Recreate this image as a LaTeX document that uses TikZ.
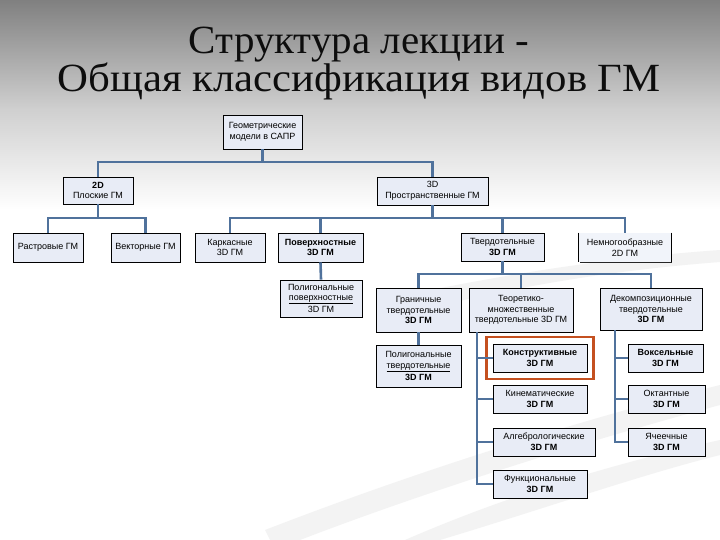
\documentclass[tikz,border=0pt]{standalone}
\usepackage{fontspec}
\setmainfont{Liberation Serif}
\newfontfamily\arialf{Liberation Sans}
\usetikzlibrary{shadows,fit}
\definecolor{boxfill}{RGB}{232,236,246}
\definecolor{conncol}{RGB}{80,114,156}
\definecolor{frameor}{RGB}{196,80,32}
\definecolor{swoosh}{RGB}{243,243,243}
\tikzset{
  gbox/.style={draw=black, line width=0.9pt, fill=boxfill, align=center, inner sep=1pt,
    font=\arialf\fontsize{9}{10.6}\selectfont,
    drop shadow={shadow xshift=1.3pt, shadow yshift=-1.3pt, opacity=1, fill=black!85}},
  conn/.style={draw=conncol, line width=2.6pt},
  ttl/.style={font=\fontsize{40}{34}\selectfont, inner sep=0pt, align=center, anchor=base},
}
\begin{document}
\begin{tikzpicture}[x=1pt,y=-1pt]
\useasboundingbox (0,0) rectangle (720,540);
% background
\fill[white] (0,0) rectangle (720,540);
\shade[top color={rgb,255:red,128;green,128;blue,128}, bottom color={rgb,255:red,208;green,208;blue,208}] (0,0) rectangle (720,110);
\shade[top color={rgb,255:red,208;green,208;blue,208}, bottom color=white] (0,110) rectangle (720,210);
\fill[swoosh] (265,530) .. controls (420,470) and (580,420) .. (720,385) -- (720,405) .. controls (590,440) and (430,490) .. (300,540) -- (270,540) -- cycle;
\fill[swoosh] (405,540) .. controls (520,490) and (630,460) .. (720,440) -- (720,455) .. controls (640,475) and (540,510) .. (440,540) -- cycle;
\fill[swoosh] (380,300) .. controls (480,280) and (580,260) .. (720,250) -- (720,262) .. controls (590,272) and (490,292) .. (390,318) -- cycle;
% title
\node[ttl, text=black!95] (title) at (359,92) {\scalebox{1.025}[1]{Структура лекции -}\\\scalebox{1.07}[1]{Общая классификация видов ГМ}};
% connector bus coordinates
\coordinate (bus1) at (0,162);
\coordinate (bus2) at (0,218);
\coordinate (bus4) at (0,274);
% nodes
\node[gbox, minimum width=79pt, minimum height=34pt] (root) at (262.5,132) {Геометрические\\модели в САПР};
\node[gbox, minimum width=70pt, minimum height=27pt] (n2D) at (98,190.5) {\textbf{2D}\\Плоские ГМ};
\node[gbox, minimum width=111pt, minimum height=28pt] (n3D) at (432.5,191) {3D\\Пространственные ГМ};
\node[gbox, minimum width=70pt, minimum height=29pt] (rast) at (48,247.5) {Растровые ГМ};
\node[gbox, minimum width=69pt, minimum height=29pt] (vect) at (145.5,247.5) {Векторные ГМ};
\node[gbox, minimum width=70pt, minimum height=29pt] (kark) at (230,247.5) {Каркасные\\3D ГМ};
\node[gbox, minimum width=85pt, minimum height=29pt] (pov) at (320.5,247.5) {\textbf{Поверхностные}\\\textbf{3D ГМ}};
\node[gbox, minimum width=83pt, minimum height=28pt] (tverd) at (502.5,247) {Твердотельные\\\textbf{3D ГМ}};
\node[gbox, draw=none, drop shadow={opacity=0}, fill=boxfill!60, minimum width=92pt, minimum height=29pt] (nemn) at (625,247.5) {Немногообразные\\2D ГМ};
\draw[black, line width=0.9pt] (nemn.north west) -- (nemn.south west) (nemn.north east) -- (nemn.south east);
\node[gbox, minimum width=82pt, minimum height=37pt, font=\arialf\fontsize{9}{10}\selectfont] (polpov) at (321,298.5) {Полигональные\\\underline{поверхностные}\\[1.5pt]3D ГМ};
\node[gbox, minimum width=85pt, minimum height=44pt] (gran) at (418.5,310) {Граничные\\твердотельные\\\textbf{3D ГМ}};
\node[gbox, minimum width=104pt, minimum height=44pt] (teor) at (521,310) {Теоретико-\\множественные\\твердотельные 3D ГМ};
\node[gbox, minimum width=102pt, minimum height=42pt] (dek) at (651,309) {Декомпозиционные\\твердотельные\\\textbf{3D ГМ}};
\node[gbox, minimum width=85pt, minimum height=42pt] (poltv) at (418.5,366) {Полигональные\\\underline{твердотельные}\\[1.5pt]\textbf{3D ГМ}};
\node[gbox, minimum width=94pt, minimum height=28pt] (konstr) at (540,358) {\textbf{Конструктивные}\\\textbf{3D ГМ}};
\node[gbox, minimum width=94pt, minimum height=28pt] (kinem) at (540,399) {Кинематические\\\textbf{3D ГМ}};
\node[gbox, minimum width=102pt, minimum height=28pt] (algeb) at (544,442) {Алгебрологические\\\textbf{3D ГМ}};
\node[gbox, minimum width=94pt, minimum height=28pt] (funk) at (540,484) {Функциональные\\\textbf{3D ГМ}};
\node[gbox, minimum width=75pt, minimum height=28pt] (voks) at (665.5,358) {\textbf{Воксельные}\\\textbf{3D ГМ}};
\node[gbox, minimum width=77pt, minimum height=28pt] (okt) at (666.5,399) {Октантные\\\textbf{3D ГМ}};
\node[gbox, minimum width=77pt, minimum height=28pt] (yach) at (666.5,442) {Ячеечные\\\textbf{3D ГМ}};
\node[draw=frameor, line width=2.8pt, inner xsep=6pt, inner ysep=6.5pt, fit=(konstr)] (hl) {};
% connectors
\coordinate (tt) at (477,332);
\coordinate (dt) at (615,330);
\draw[conn] (root.south) -- (root.south |- bus1);
\draw[conn] (n2D.north) -- (n2D.north |- bus1) -- (n3D.north |- bus1) -- (n3D.north);
\draw[conn] (n2D.south) -- (n2D.south |- bus2);
\draw[conn] (rast.north) -- (rast.north |- bus2) -- (vect.north |- bus2) -- (vect.north);
\draw[conn] (n3D.south) -- (n3D.south |- bus2);
\draw[conn] (kark.north) -- (kark.north |- bus2) -- (nemn.north |- bus2) -- (nemn.north);
\draw[conn] (pov.north) -- (pov.north |- bus2);
\draw[conn] (tverd.north) -- (tverd.north |- bus2);
\draw[conn] (pov.south) -- (polpov.north);
\draw[conn] (tverd.south) -- (tverd.south |- bus4);
\draw[conn] (gran.north) -- (gran.north |- bus4) -- (dek.north |- bus4) -- (dek.north);
\draw[conn] (teor.north) -- (teor.north |- bus4);
\draw[conn] (gran.south) -- (poltv.north);
\draw[conn] (tt) |- (konstr.west);
\draw[conn] (tt) |- (kinem.west);
\draw[conn] (tt) |- (algeb.west);
\draw[conn] (tt) |- (funk.west);
\draw[conn] (dt) |- (voks.west);
\draw[conn] (dt) |- (okt.west);
\draw[conn] (dt) |- (yach.west);
\end{tikzpicture}
\end{document}
